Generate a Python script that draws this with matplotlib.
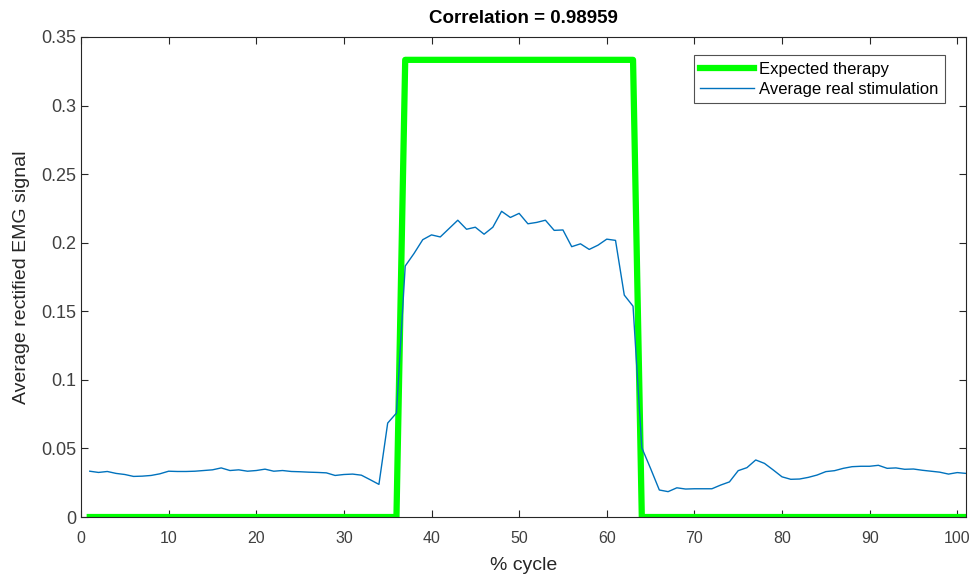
import numpy as np
import matplotlib.pyplot as plt

plt.rcParams['font.family'] = ['Liberation Sans', 'DejaVu Sans']

# data
cycle = np.arange(1, 102)

expected = [0.0] * 36 + [1 / 3] * 27 + [0.0] * 38

real = [
    0.0334, 0.0325, 0.0332, 0.0318, 0.0310, 0.0296, 0.0298, 0.0303, 0.0315, 0.0334,
    0.0332, 0.0332, 0.0334, 0.0339, 0.0344, 0.0358, 0.0339, 0.0344, 0.0334, 0.0339,
    0.0349, 0.0334, 0.0339, 0.0332, 0.0330, 0.0327, 0.0325, 0.0322, 0.0303, 0.0310,
    0.0313, 0.0305, 0.0272, 0.0238, 0.0685, 0.0758, 0.1830, 0.1921, 0.2022, 0.2057,
    0.2042, 0.2103, 0.2164, 0.2098, 0.2113, 0.2062, 0.2113, 0.2229, 0.2184, 0.2214,
    0.2138, 0.2148, 0.2164, 0.2090, 0.2093, 0.1971, 0.1992, 0.1951, 0.1982, 0.2026,
    0.2017, 0.1618, 0.1537, 0.0505, 0.0354, 0.0197, 0.0185, 0.0213, 0.0204, 0.0206,
    0.0206, 0.0206, 0.0233, 0.0256, 0.0338, 0.0360, 0.0416, 0.0391, 0.0343, 0.0293,
    0.0275, 0.0277, 0.0289, 0.0306, 0.0331, 0.0338, 0.0355, 0.0367, 0.0370, 0.0370,
    0.0377, 0.0355, 0.0358, 0.0348, 0.0350, 0.0341, 0.0334, 0.0327, 0.0313, 0.0324,
    0.0318,
]

xticks = list(range(0, 101, 10))
yticks = [0, 0.05, 0.1, 0.15, 0.2, 0.25, 0.3, 0.35]
ytick_labels = ['0', '0.05', '0.1', '0.15', '0.2', '0.25', '0.3', '0.35']

fig = plt.figure(figsize=(9.7, 5.76), dpi=100)
ax = fig.add_axes([0.0835, 0.1024, 0.9124, 0.8334])

ax.plot(cycle, expected, color=(0, 1, 0), linewidth=4.5, label='Expected therapy')
ax.plot(cycle, real, color='#0072BD', linewidth=1.0, label='Average real stimulation')

ax.set_xlim(0, 101)
ax.set_ylim(0, 0.35)
ax.set_xticks(xticks)
ax.set_yticks(yticks)
ax.set_yticklabels(ytick_labels)

ax.tick_params(direction='in', top=True, right=True, length=5, width=0.8,
               colors='#262626', labelsize=13, labelcolor='#404040')
ax.tick_params(axis='x', pad=10, labelsize=11.5)
for s in ax.spines.values():
    s.set_color('#262626')
    s.set_linewidth(0.8)

ax.set_xlabel('% cycle', fontsize=14, color='#262626', labelpad=8)
ax.set_ylabel('Average rectified EMG signal', fontsize=14, color='#262626', labelpad=8)
ax.set_title('Correlation = 0.98959', fontsize=13.5, fontweight='bold', color='black', pad=10)

leg = ax.legend(loc='upper right', bbox_to_anchor=(0.976, 0.9625), fontsize=12,
                frameon=True, fancybox=False, edgecolor='#262626',
                handlelength=3.2, handletextpad=0.3, borderpad=0.4, labelspacing=0.3,
                borderaxespad=0)
leg.get_frame().set_linewidth(0.8)

fig.savefig('out.png', dpi=100)
